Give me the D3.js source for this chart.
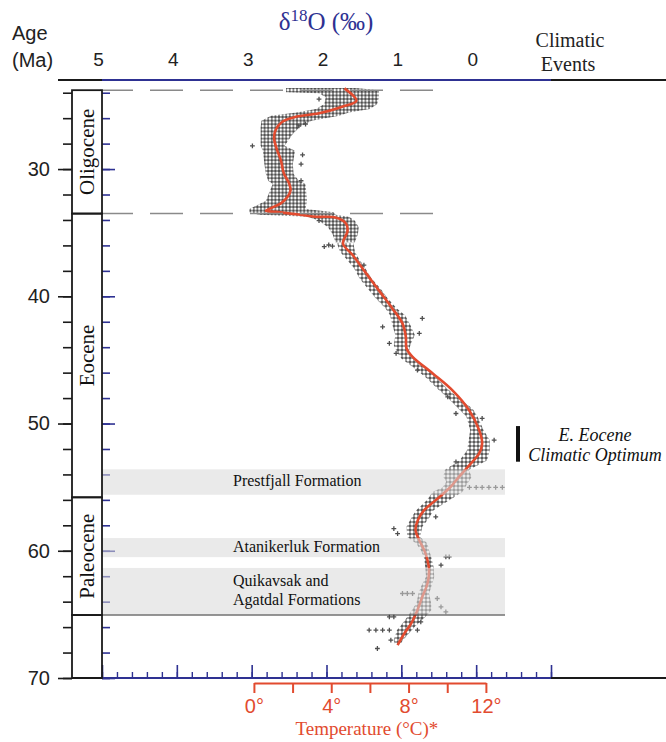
<!DOCTYPE html>
<html>
<head>
<meta charset="utf-8">
<script src="https://cdn.jsdelivr.net/npm/d3@7"></script>
<style>
  body { margin: 0; background: #fff; }
  svg { display: block; font-family: "Liberation Sans", Arial, sans-serif; }
  .serif { font-family: "Liberation Serif", "Times New Roman", serif; }
</style>
</head>
<body>
<div id="chart"></div>
<script>
// ---------- Data ----------
// smoothed d18O curve (age in Ma, d18O in permil)
const curveAge  = [23.66, 24.63, 25.10, 25.62, 25.89, 26.28, 26.93, 27.59, 28.51, 29.29, 30.34, 31.12, 31.65, 32.18, 32.70, 33.28, 33.36, 33.48, 33.75, 33.80, 34.27, 34.90, 35.84, 36.76, 38.20, 39.77, 40.95, 42.13, 43.18, 44.10, 44.76, 46.06, 47.37, 48.95, 50.52, 51.56, 52.35, 53.27, 54.19, 54.97, 56.02, 56.81, 57.60, 58.38, 59.17, 59.95, 60.74, 61.53, 62.57, 63.62, 64.67, 65.72, 66.50, 67.42];
const curveD18O = [1.76, 1.60, 1.79, 2.10, 2.41, 2.59, 2.68, 2.70, 2.66, 2.61, 2.57, 2.50, 2.48, 2.52, 2.61, 2.81, 2.68, 2.50, 2.14, 1.88, 1.74, 1.72, 1.78, 1.65, 1.47, 1.27, 1.12, 0.985, 0.94, 0.93, 0.85, 0.58, 0.32, 0.094, -0.04, -0.08, -0.04, 0.09, 0.23, 0.34, 0.54, 0.695, 0.78, 0.81, 0.76, 0.695, 0.65, 0.63, 0.65, 0.72, 0.785, 0.87, 0.96, 1.05];

// dense Oligocene point cloud: envelope (high / low d18O)
const denseAge = [23.63, 23.80, 23.97, 24.05, 24.36, 24.89, 25.28, 25.55, 25.81, 26.20, 26.72, 27.25, 28.17, 28.56, 29.61, 30.39, 30.92, 31.18, 32.49, 33.14, 33.40, 33.60, 33.75, 34.06, 34.58, 35.11, 35.76];
const denseHi  = [2.54, 2.54, 2.54, 2.10, 2.01, 2.03, 2.14, 2.40, 2.74, 2.87, 2.88, 2.88, 2.88, 2.85, 2.83, 2.81, 2.78, 2.72, 2.81, 3.03, 3.03, 2.90, 2.25, 2.10, 1.98, 1.92, 1.88];
const denseLo  = [1.61, 1.30, 1.30, 1.30, 1.30, 1.32, 1.42, 1.70, 1.83, 2.20, 2.36, 2.45, 2.56, 2.42, 2.45, 2.44, 2.37, 2.28, 2.26, 2.28, 1.90, 1.88, 1.70, 1.62, 1.57, 1.58, 1.62];

// Eocene - Paleocene point trail: envelope
const trailAge = [35.84, 36.50, 37.02, 37.81, 38.59, 39.38, 40.17, 40.95, 41.48, 42.26, 43.05, 43.84, 44.36, 44.88, 45.67, 46.45, 47.24, 48.03, 48.81, 49.47, 50.52, 51.30, 52.09, 52.88, 53.66, 54.19, 54.58, 55.02, 55.37, 56.02, 56.81, 57.34, 58.12, 58.91, 59.43, 59.95, 60.48, 61.27, 62.05, 62.84, 63.36, 64.14, 64.67, 65.20, 65.98, 66.24, 67.03, 67.40];
const trailHi  = [1.86, 1.82, 1.74, 1.63, 1.56, 1.45, 1.34, 1.21, 1.15, 1.12, 1.08, 1.10, 1.06, 1.00, 0.82, 0.66, 0.52, 0.37, 0.24, 0.13, 0.08, 0.10, 0.12, 0.22, 0.42, 0.44, 0.40, 0.45, 0.58, 0.66, 0.80, 0.86, 0.93, 0.92, 0.80, 0.74, 0.70, 0.68, 0.67, 0.74, 0.77, 0.80, 0.86, 0.92, 1.02, 1.06, 1.10, 1.08];
const trailLo  = [1.64, 1.62, 1.57, 1.48, 1.40, 1.28, 1.18, 1.06, 0.95, 0.88, 0.82, 0.88, 0.90, 0.82, 0.68, 0.52, 0.39, 0.23, 0.05, -0.02, -0.10, -0.18, -0.18, -0.15, 0.10, 0.06, 0.10, 0.15, 0.18, 0.36, 0.57, 0.62, 0.72, 0.75, 0.65, 0.63, 0.60, 0.57, 0.56, 0.60, 0.63, 0.60, 0.60, 0.68, 0.82, 0.86, 0.98, 1.02];

// isolated samples
const outlierAge  = [24.50, 26.46, 26.60, 28.17, 28.88, 29.61, 30.92, 34.06, 35.97, 36.10, 36.05, 37.55, 41.74, 42.40, 42.92, 43.70, 44.49, 45.80, 47.90, 49.21, 49.60, 51.30, 53.01, 55.02, 55.02, 55.02, 55.02, 55.02, 55.02, 57.34, 58.26, 58.65, 60.48, 60.48, 61.13, 63.36, 63.36, 63.36, 63.75, 64.41, 64.80, 65.20, 65.20, 65.59, 66.24, 66.24, 66.24, 66.24, 66.24, 67.03, 67.68];
const outlierD18O = [2.10, 2.28, 2.37, 2.99, 2.32, 2.34, 2.34, 2.10, 1.97, 2.03, 1.92, 1.50, 0.72, 1.25, 0.76, 1.16, 1.07, 0.785, 0.38, 0.27, -0.08, -0.24, 0.27, 0.09, 0.00, -0.08, -0.17, -0.26, -0.35, 0.54, 1.10, 1.05, 0.405, 0.36, 0.47, 0.985, 0.92, 0.85, 0.52, 0.47, 0.405, 1.16, 1.10, 0.74, 1.43, 1.34, 1.25, 1.16, 0.785, 1.14, 1.32];

// ticks
const d18oLabels = [5, 4, 3, 2, 1, 0];
const ageLabels  = [30, 40, 50, 60, 70];
const tempTicks  = [0, 2, 4, 6, 8, 10, 12];
const tempLabels = [0, 4, 8, 12];

// epochs and formations
const epochNames  = ["Oligocene", "Eocene", "Paleocene"];
const epochTop    = [23.8, 33.5, 55.8];
const epochBottom = [33.5, 55.8, 65.05];

const formationNames  = [["Prestfjall Formation"], ["Atanikerluk Formation"], ["Quikavsak and", "Agatdal Formations"]];
const formationTop    = [53.6, 59.0, 61.35];
const formationBottom = [55.6, 60.5, 65.05];

const eecoTop = 50.2, eecoBottom = 53.0;

// ---------- Layout ----------
const width = 666, height = 742;
const navy = "#2e3192", red = "#e24b2f", ink = "#1a1a1a";

const svg = d3.select("#chart").append("svg")
  .attr("width", width)
  .attr("height", height);

const x = d3.scaleLinear().domain([5, -1]).range([102, 551]);
const y = d3.scaleLinear().domain([23, 70]).range([80, 678]);
// temperature scale sits under the d18O axis (0 C at 2.97 permil, 12 C at -0.13 permil)
const t = d3.scaleLinear().domain([0, 12]).range([x(2.97), x(-0.13)]);

// ---------- Patterns ----------
const defs = svg.append("defs");
defs.append("pattern")
  .attr("id", "dense").attr("patternUnits", "userSpaceOnUse")
  .attr("width", 3.6).attr("height", 3.6)
  .append("path").attr("d", "M0.2,1.8H3.4M1.8,0.2V3.4")
  .attr("stroke", "#474747").attr("stroke-width", 1.5);
defs.append("pattern")
  .attr("id", "trail").attr("patternUnits", "userSpaceOnUse")
  .attr("width", 4).attr("height", 4)
  .append("path").attr("d", "M0.3,2H3.7M2,0.3V3.7")
  .attr("stroke", "#4f4f4f").attr("stroke-width", 1.4);

// ---------- Axes ----------
// left age axis
svg.append("g")
  .attr("transform", "translate(72,0)")
  .call(d3.axisLeft(y).tickValues(d3.range(24, 71, 2)).tickSize(9))
  .call(g => g.select(".domain").remove())
  .call(g => g.selectAll("text").remove())
  .call(g => g.selectAll("line").attr("stroke", ink).attr("stroke-width", 1.6));

svg.append("g")
  .attr("transform", "translate(72,0)")
  .call(d3.axisLeft(y).tickValues(ageLabels).tickSize(14).tickPadding(8))
  .call(g => g.select(".domain").remove())
  .call(g => g.selectAll("line").attr("stroke", ink).attr("stroke-width", 1.6))
  .call(g => g.selectAll("text").attr("font-size", 20).attr("fill", "#222")
    .attr("font-family", "'Liberation Sans', Arial, sans-serif"));

// blue inner ticks
svg.append("g")
  .attr("transform", "translate(102,0)")
  .call(d3.axisRight(y).tickValues(d3.range(24, 71, 2)).tickSize(8))
  .call(g => g.select(".domain").remove())
  .call(g => g.selectAll("text").remove())
  .call(g => g.selectAll("line").attr("stroke", navy).attr("stroke-width", 1.6));
svg.append("g")
  .attr("transform", "translate(102,0)")
  .call(d3.axisRight(y).tickValues(ageLabels).tickSize(13))
  .call(g => g.select(".domain").remove())
  .call(g => g.selectAll("text").remove())
  .call(g => g.selectAll("line").attr("stroke", navy).attr("stroke-width", 1.6));

// bottom blue d18O ticks
svg.append("g")
  .attr("transform", "translate(0,678)")
  .call(d3.axisTop(x).tickValues(d3.range(-1, 5.01, 0.2)).tickSize(6))
  .call(g => g.select(".domain").remove())
  .call(g => g.selectAll("text").remove())
  .call(g => g.selectAll("line").attr("stroke", navy).attr("stroke-width", 1.4));
svg.append("g")
  .attr("transform", "translate(0,678)")
  .call(d3.axisTop(x).tickValues(d3.range(-1, 5.01, 1)).tickSize(13))
  .call(g => g.select(".domain").remove())
  .call(g => g.selectAll("text").remove())
  .call(g => g.selectAll("line").attr("stroke", navy).attr("stroke-width", 1.6));

// top d18O labels
svg.append("g")
  .attr("transform", "translate(0,69)")
  .call(d3.axisTop(x).tickValues(d18oLabels).tickSize(0).tickPadding(3).tickFormat(d3.format("d")))
  .call(g => g.select(".domain").remove())
  .call(g => g.selectAll("text").attr("font-size", 19).attr("fill", "#222").attr("dx", -4)
    .attr("font-family", "'Liberation Sans', Arial, sans-serif"));

// frame lines
svg.append("line").attr("x1", 58).attr("x2", x(5)).attr("y1", 80).attr("y2", 80)
  .attr("stroke", ink).attr("stroke-width", 2);
svg.append("line").attr("x1", x(5)).attr("x2", x(-1)).attr("y1", 80).attr("y2", 80)
  .attr("stroke", navy).attr("stroke-width", 2);
svg.append("line").attr("x1", x(-1)).attr("x2", width).attr("y1", 80).attr("y2", 80)
  .attr("stroke", ink).attr("stroke-width", 2);

svg.append("line").attr("x1", 72).attr("x2", x(5)).attr("y1", 678).attr("y2", 678)
  .attr("stroke", ink).attr("stroke-width", 2);
svg.append("line").attr("x1", x(5)).attr("x2", x(-1)).attr("y1", 678).attr("y2", 678)
  .attr("stroke", navy).attr("stroke-width", 2);
svg.append("line").attr("x1", x(-1)).attr("x2", width).attr("y1", 678).attr("y2", 678)
  .attr("stroke", ink).attr("stroke-width", 2);

// ---------- Data marks ----------
const dense = denseAge.map((a, i) => ({ age: a, hi: denseHi[i], lo: denseLo[i] }));
const trail = trailAge.map((a, i) => ({ age: a, hi: trailHi[i], lo: trailLo[i] }));

const cloud = d3.area()
  .y(d => y(d.age))
  .x0(d => x(d.hi))
  .x1(d => x(d.lo))
  .curve(d3.curveLinear);

svg.append("path").datum(dense).attr("d", cloud).attr("fill", "url(#dense)");
svg.append("path").datum(trail).attr("d", cloud).attr("fill", "url(#trail)");

svg.append("g")
  .selectAll("path")
  .data(outlierAge.map((a, i) => ({ age: a, d: outlierD18O[i] })))
  .join("path")
  .attr("transform", d => `translate(${x(d.d)},${y(d.age)})`)
  .attr("d", "M-2.4,0H2.4M0,-2.4V2.4")
  .attr("stroke", "#4f4f4f")
  .attr("stroke-width", 1.3);

const curve = curveAge.map((a, i) => ({ age: a, d: curveD18O[i] }));
svg.append("path")
  .datum(curve)
  .attr("d", d3.line().x(d => x(d.d)).y(d => y(d.age)).curve(d3.curveCatmullRom.alpha(0.5)))
  .attr("fill", "none")
  .attr("stroke", red)
  .attr("stroke-width", 2.6)
  .attr("stroke-linejoin", "round");

// dashed Oligocene bounds
[epochTop[0], epochBottom[0]].forEach(a => {
  svg.append("line")
    .attr("x1", x(5) - 2).attr("x2", 433)
    .attr("y1", y(a)).attr("y2", y(a))
    .attr("stroke", "#8a8a8a").attr("stroke-width", 1.5)
    .attr("stroke-dasharray", "33,17");
});

// ---------- Formation bands ----------
const bandG = svg.append("g");
formationNames.forEach((lines, i) => {
  bandG.append("rect")
    .attr("x", x(5)).attr("y", y(formationTop[i]))
    .attr("width", 505 - x(5))
    .attr("height", y(formationBottom[i]) - y(formationTop[i]))
    .attr("fill", "#d8d8d8").attr("opacity", 0.55);
});
svg.append("line")
  .attr("x1", x(5)).attr("x2", 505)
  .attr("y1", y(epochBottom[2])).attr("y2", y(epochBottom[2]))
  .attr("stroke", "#333").attr("stroke-width", 1);

const labelY = [[486], [552], [586, 605]];
formationNames.forEach((lines, i) => {
  lines.forEach((s, j) => {
    svg.append("text").attr("class", "serif")
      .attr("x", 233).attr("y", labelY[i][j])
      .attr("font-size", 16).attr("fill", "#111")
      .text(s);
  });
});

// ---------- Epoch column ----------
const epochG = svg.append("g");
epochNames.forEach((name, i) => {
  const y0 = y(epochTop[i]), y1 = y(epochBottom[i]);
  epochG.append("rect")
    .attr("x", 72).attr("y", y0).attr("width", 30).attr("height", y1 - y0)
    .attr("fill", "none").attr("stroke", ink).attr("stroke-width", 1.8);
  epochG.append("text").attr("class", "serif")
    .attr("transform", `translate(94,${(y0 + y1) / 2}) rotate(-90)`)
    .attr("text-anchor", "middle")
    .attr("font-size", 21).attr("fill", "#111")
    .text(name);
});
epochG.append("rect")
  .attr("x", 72).attr("y", y(epochBottom[2])).attr("width", 30)
  .attr("height", y(70) - y(epochBottom[2]))
  .attr("fill", "none").attr("stroke", ink).attr("stroke-width", 1.8);

// ---------- Temperature axis ----------
svg.append("g")
  .attr("transform", "translate(0,683)")
  .call(d3.axisBottom(t).tickValues(tempTicks).tickSize(10).tickSizeOuter(0))
  .call(g => g.selectAll("text").remove())
  .call(g => g.select(".domain").attr("stroke", red).attr("stroke-width", 2))
  .call(g => g.selectAll("line").attr("stroke", red).attr("stroke-width", 2));

svg.append("g")
  .attr("transform", "translate(0,683)")
  .call(d3.axisBottom(t).tickValues(tempLabels).tickSize(10).tickPadding(6)
    .tickFormat(d => d + "°"))
  .call(g => g.select(".domain").remove())
  .call(g => g.selectAll("line").remove())
  .call(g => g.selectAll("text").attr("fill", red).attr("font-size", 20)
    .attr("font-family", "'Liberation Sans', Arial, sans-serif"));

svg.append("text").attr("class", "serif")
  .attr("x", t(6) - 3).attr("y", 735)
  .attr("text-anchor", "middle").attr("font-size", 19).attr("fill", red)
  .text("Temperature (°C)*");

// ---------- Titles ----------
svg.append("text").attr("x", 12).attr("y", 40).attr("font-size", 20).attr("fill", "#222").text("Age");
svg.append("text").attr("x", 12).attr("y", 67).attr("font-size", 20).attr("fill", "#222").text("(Ma)");

const title = svg.append("text").attr("class", "serif")
  .attr("x", 326).attr("y", 30).attr("text-anchor", "middle")
  .attr("font-size", 25).attr("fill", navy);
title.append("tspan").text("δ");
title.append("tspan").attr("dy", -9).attr("font-size", 17).text("18");
title.append("tspan").attr("dy", 9).text("O (‰)");

svg.append("text").attr("class", "serif")
  .attr("x", 570).attr("y", 47).attr("text-anchor", "middle")
  .attr("font-size", 20).attr("fill", "#222").text("Climatic");
svg.append("text").attr("class", "serif")
  .attr("x", 568).attr("y", 71).attr("text-anchor", "middle")
  .attr("font-size", 20).attr("fill", "#222").text("Events");

// ---------- E. Eocene Climatic Optimum ----------
svg.append("rect")
  .attr("x", 516).attr("y", y(eecoTop))
  .attr("width", 4).attr("height", y(eecoBottom) - y(eecoTop))
  .attr("fill", "#111");
svg.append("text").attr("class", "serif")
  .attr("x", 595).attr("y", 441).attr("text-anchor", "middle")
  .attr("font-size", 18).attr("font-style", "italic").attr("fill", "#111")
  .text("E. Eocene");
svg.append("text").attr("class", "serif")
  .attr("x", 595).attr("y", 461).attr("text-anchor", "middle")
  .attr("font-size", 18).attr("font-style", "italic").attr("fill", "#111")
  .text("Climatic Optimum");
</script>
</body>
</html>
